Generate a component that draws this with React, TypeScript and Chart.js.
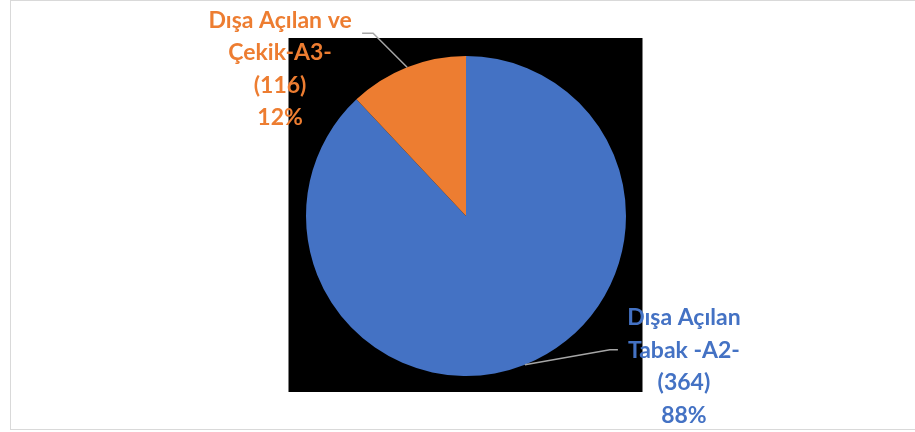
import React, { useEffect, useRef } from "react";
import { Chart, registerables } from "chart.js";

Chart.register(...registerables);

const categories: string[][] = [
  ["Dışa Açılan", "Tabak -A2-", "(364)", "88%"],
  ["Dışa Açılan ve", "Çekik-A3-", "(116)", "12%"],
];
const counts: number[] = [364, 116];
const shares: number[] = [88, 12];
const colors: string[] = ["#4472C4", "#ED7D31"];

// label placement, relative to each slice's outer mid-point
const labelCfg = [
  { elbowDx: 85, elbowDy: -15, tailDx: 8, cx: 159, firstDy: -47 },
  { elbowDx: -34, elbowDy: -34, tailDx: -11, cx: -127, firstDy: -47 },
];

const labelPlugin = {
  id: "outLabels",
  beforeDraw(chart: any) {
    const meta = chart.getDatasetMeta(0);
    const arc = meta.data[0];
    if (!arc) return;
    const { x, y, outerRadius } = arc.getProps(["x", "y", "outerRadius"], true);
    const half = outerRadius + 17;
    const ctx = chart.ctx;
    ctx.save();
    ctx.fillStyle = "#000000";
    ctx.fillRect(x - half - 0.5, y - half - 1, half * 2, half * 2);
    ctx.restore();
  },
  afterDraw(chart: any) {
    const ctx = chart.ctx;
    const meta = chart.getDatasetMeta(0);
    meta.data.forEach((el: any, i: number) => {
      const { x, y, startAngle, endAngle, outerRadius } = el.getProps(
        ["x", "y", "startAngle", "endAngle", "outerRadius"],
        true
      );
      const mid = (startAngle + endAngle) / 2;
      const px = x + Math.cos(mid) * outerRadius;
      const py = y + Math.sin(mid) * outerRadius;
      const c = labelCfg[i];
      const ex = px + c.elbowDx;
      const ey = py + c.elbowDy;
      ctx.save();
      ctx.strokeStyle = "#A6A6A6";
      ctx.lineWidth = 1.5;
      ctx.beginPath();
      ctx.moveTo(px, py);
      ctx.lineTo(ex, ey);
      ctx.lineTo(ex + c.tailDx, ey);
      ctx.stroke();
      ctx.fillStyle = colors[i];
      ctx.font = "bold 23px Lato";
      ctx.textAlign = "center";
      ctx.textBaseline = "middle";
      const lines = categories[i];
      lines.forEach((t, k) => {
        ctx.fillText(t, px + c.cx, py + c.firstDy + k * 32.5);
      });
      ctx.restore();
    });
  },
};

export default function App() {
  const ref = useRef<HTMLCanvasElement>(null);
  useEffect(() => {
    if (!ref.current) return;
    const chart = new Chart(ref.current, {
      type: "pie",
      data: {
        labels: categories.map((c) => c.slice(0, 2).join(" ")),
        datasets: [
          {
            data: shares,
            backgroundColor: colors,
            borderWidth: 0,
            counts,
          } as any,
        ],
      },
      options: {
        animation: false,
        responsive: false,
        maintainAspectRatio: false,
        layout: { padding: { left: 306, right: 289, top: 56, bottom: 56 } },
        plugins: {
          legend: { display: false },
          tooltip: { enabled: false },
        },
      },
      plugins: [labelPlugin],
    });
    return () => chart.destroy();
  }, []);
  return (
    <div
      style={{
        position: "fixed",
        left: 0,
        top: 0,
        width: 915,
        height: 432,
        background: "#fff",
        overflow: "hidden",
      }}
    >
      <div
        style={{
          position: "absolute",
          left: 10,
          top: 0,
          width: 915,
          height: 430,
          border: "1px solid #D9D9D9",
          boxSizing: "border-box",
        }}
      />
      <canvas
        ref={ref}
        width={915}
        height={432}
        style={{ position: "absolute", left: 0, top: 0 }}
      />
    </div>
  );
}
